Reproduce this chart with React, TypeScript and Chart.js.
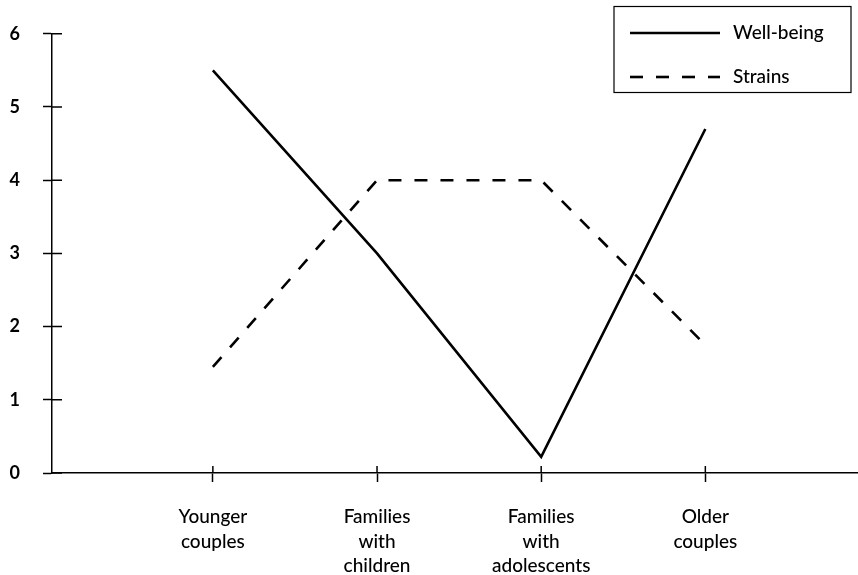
import React, { useEffect, useRef } from "react";
import { Chart, registerables } from "chart.js";

Chart.register(...registerables);

const categories: string[][] = [
  ["Younger", "couples"],
  ["Families", "with", "children"],
  ["Families", "with", "adolescents"],
  ["Older", "couples"],
];
const categoryIndex = [0, 1, 2, 3];
const wellBeing = [5.5, 3.0, 0.22, 4.7];
const strains = [1.45, 4.0, 4.0, 1.75];
const yTicks = [0, 1, 2, 3, 4, 5, 6];
const seriesNames = ["Well-being", "Strains"];

const innerTicks = {
  id: "innerTicks",
  afterDraw(chart: any) {
    const { ctx, chartArea, scales } = chart;
    ctx.save();
    ctx.strokeStyle = "#000";
    ctx.lineWidth = 1.5;
    ctx.beginPath();
    scales.y.ticks.forEach((t: any) => {
      const p = scales.y.getPixelForValue(t.value);
      ctx.moveTo(chartArea.left, p);
      ctx.lineTo(chartArea.left + 10, p);
    });
    scales.x.ticks.forEach((t: any) => {
      const p = scales.x.getPixelForValue(t.value);
      ctx.moveTo(p, chartArea.bottom);
      ctx.lineTo(p, chartArea.bottom - 7);
    });
    ctx.stroke();
    ctx.restore();
  },
};

const boxLegend = {
  id: "boxLegend",
  afterDraw(chart: any) {
    const { ctx } = chart;
    ctx.save();
    ctx.strokeStyle = "#000";
    ctx.lineWidth = 1.2;
    ctx.setLineDash([]);
    ctx.strokeRect(614, 6.5, 237, 86);
    chart.data.datasets.forEach((ds: any, i: number) => {
      const y = 33 + i * 44;
      ctx.beginPath();
      ctx.lineWidth = ds.borderWidth;
      ctx.setLineDash(ds.borderDash || []);
      ctx.moveTo(630, y);
      ctx.lineTo(720, y);
      ctx.stroke();
      ctx.setLineDash([]);
      ctx.fillStyle = "#000";
      ctx.font = "500 19px Lato";
      ctx.textBaseline = "middle";
      ctx.textAlign = "left";
      ctx.fillText(ds.label, 733, y);
    });
    ctx.restore();
  },
};

export default function App() {
  const ref = useRef<HTMLCanvasElement | null>(null);
  useEffect(() => {
    if (!ref.current) return;
    const chart = new Chart(ref.current, {
      type: "line",
      data: {
        datasets: [
          {
            label: seriesNames[0],
            data: categoryIndex.map((x, i) => ({ x, y: wellBeing[i] })),
            borderColor: "#000",
            borderWidth: 2.6,
            pointRadius: 0,
            tension: 0,
            fill: false,
          },
          {
            label: seriesNames[1],
            data: categoryIndex.map((x, i) => ({ x, y: strains[i] })),
            borderColor: "#000",
            borderWidth: 2.6,
            borderDash: [13, 13],
            pointRadius: 0,
            tension: 0,
            fill: false,
          },
        ],
      },
      options: {
        responsive: false,
        animation: false,
        devicePixelRatio: 1,
        layout: { padding: { left: 0, right: 0, top: 19, bottom: 0 } },
        plugins: { legend: { display: false }, tooltip: { enabled: false } },
        scales: {
          x: {
            type: "linear",
            min: -0.98,
            max: 3.93,
            afterBuildTicks: (scale: any) => {
              scale.ticks = categoryIndex.map((v) => ({ value: v }));
            },
            afterFit: (scale: any) => {
              scale.height = 102;
            },
            grid: {
              drawOnChartArea: false,
              drawTicks: true,
              tickLength: 9,
              tickColor: "#000",
              tickWidth: 1.5,
            },
            border: { display: true, color: "#000", width: 1.5 },
            ticks: {
              autoSkip: false,
              maxRotation: 0,
              padding: 23,
              color: "#000",
              font: { family: "Lato", size: 19, weight: "500", lineHeight: 1.29 },
              callback: (v: any) => categories[v as number] ?? "",
            },
          },
          y: {
            type: "linear",
            min: 0,
            max: 6,
            afterBuildTicks: (scale: any) => {
              scale.ticks = yTicks.map((v) => ({ value: v }));
            },
            afterFit: (scale: any) => {
              scale.width = 52;
            },
            grid: {
              drawOnChartArea: false,
              drawTicks: true,
              tickLength: 9,
              tickColor: "#000",
              tickWidth: 1.5,
            },
            border: { display: true, color: "#000", width: 1.5 },
            ticks: {
              padding: 23,
              color: "#000",
              font: { family: "Lato", size: 18, weight: "bold" },
            },
          },
        },
      },
      plugins: [innerTicks, boxLegend],
    } as any);
    return () => chart.destroy();
  }, []);
  return (
    <div style={{ position: "absolute", left: 0, top: 0, width: 858, height: 575, background: "#fff" }}>
      <canvas ref={ref} width={858} height={575} style={{ display: "block" }} />
    </div>
  );
}
